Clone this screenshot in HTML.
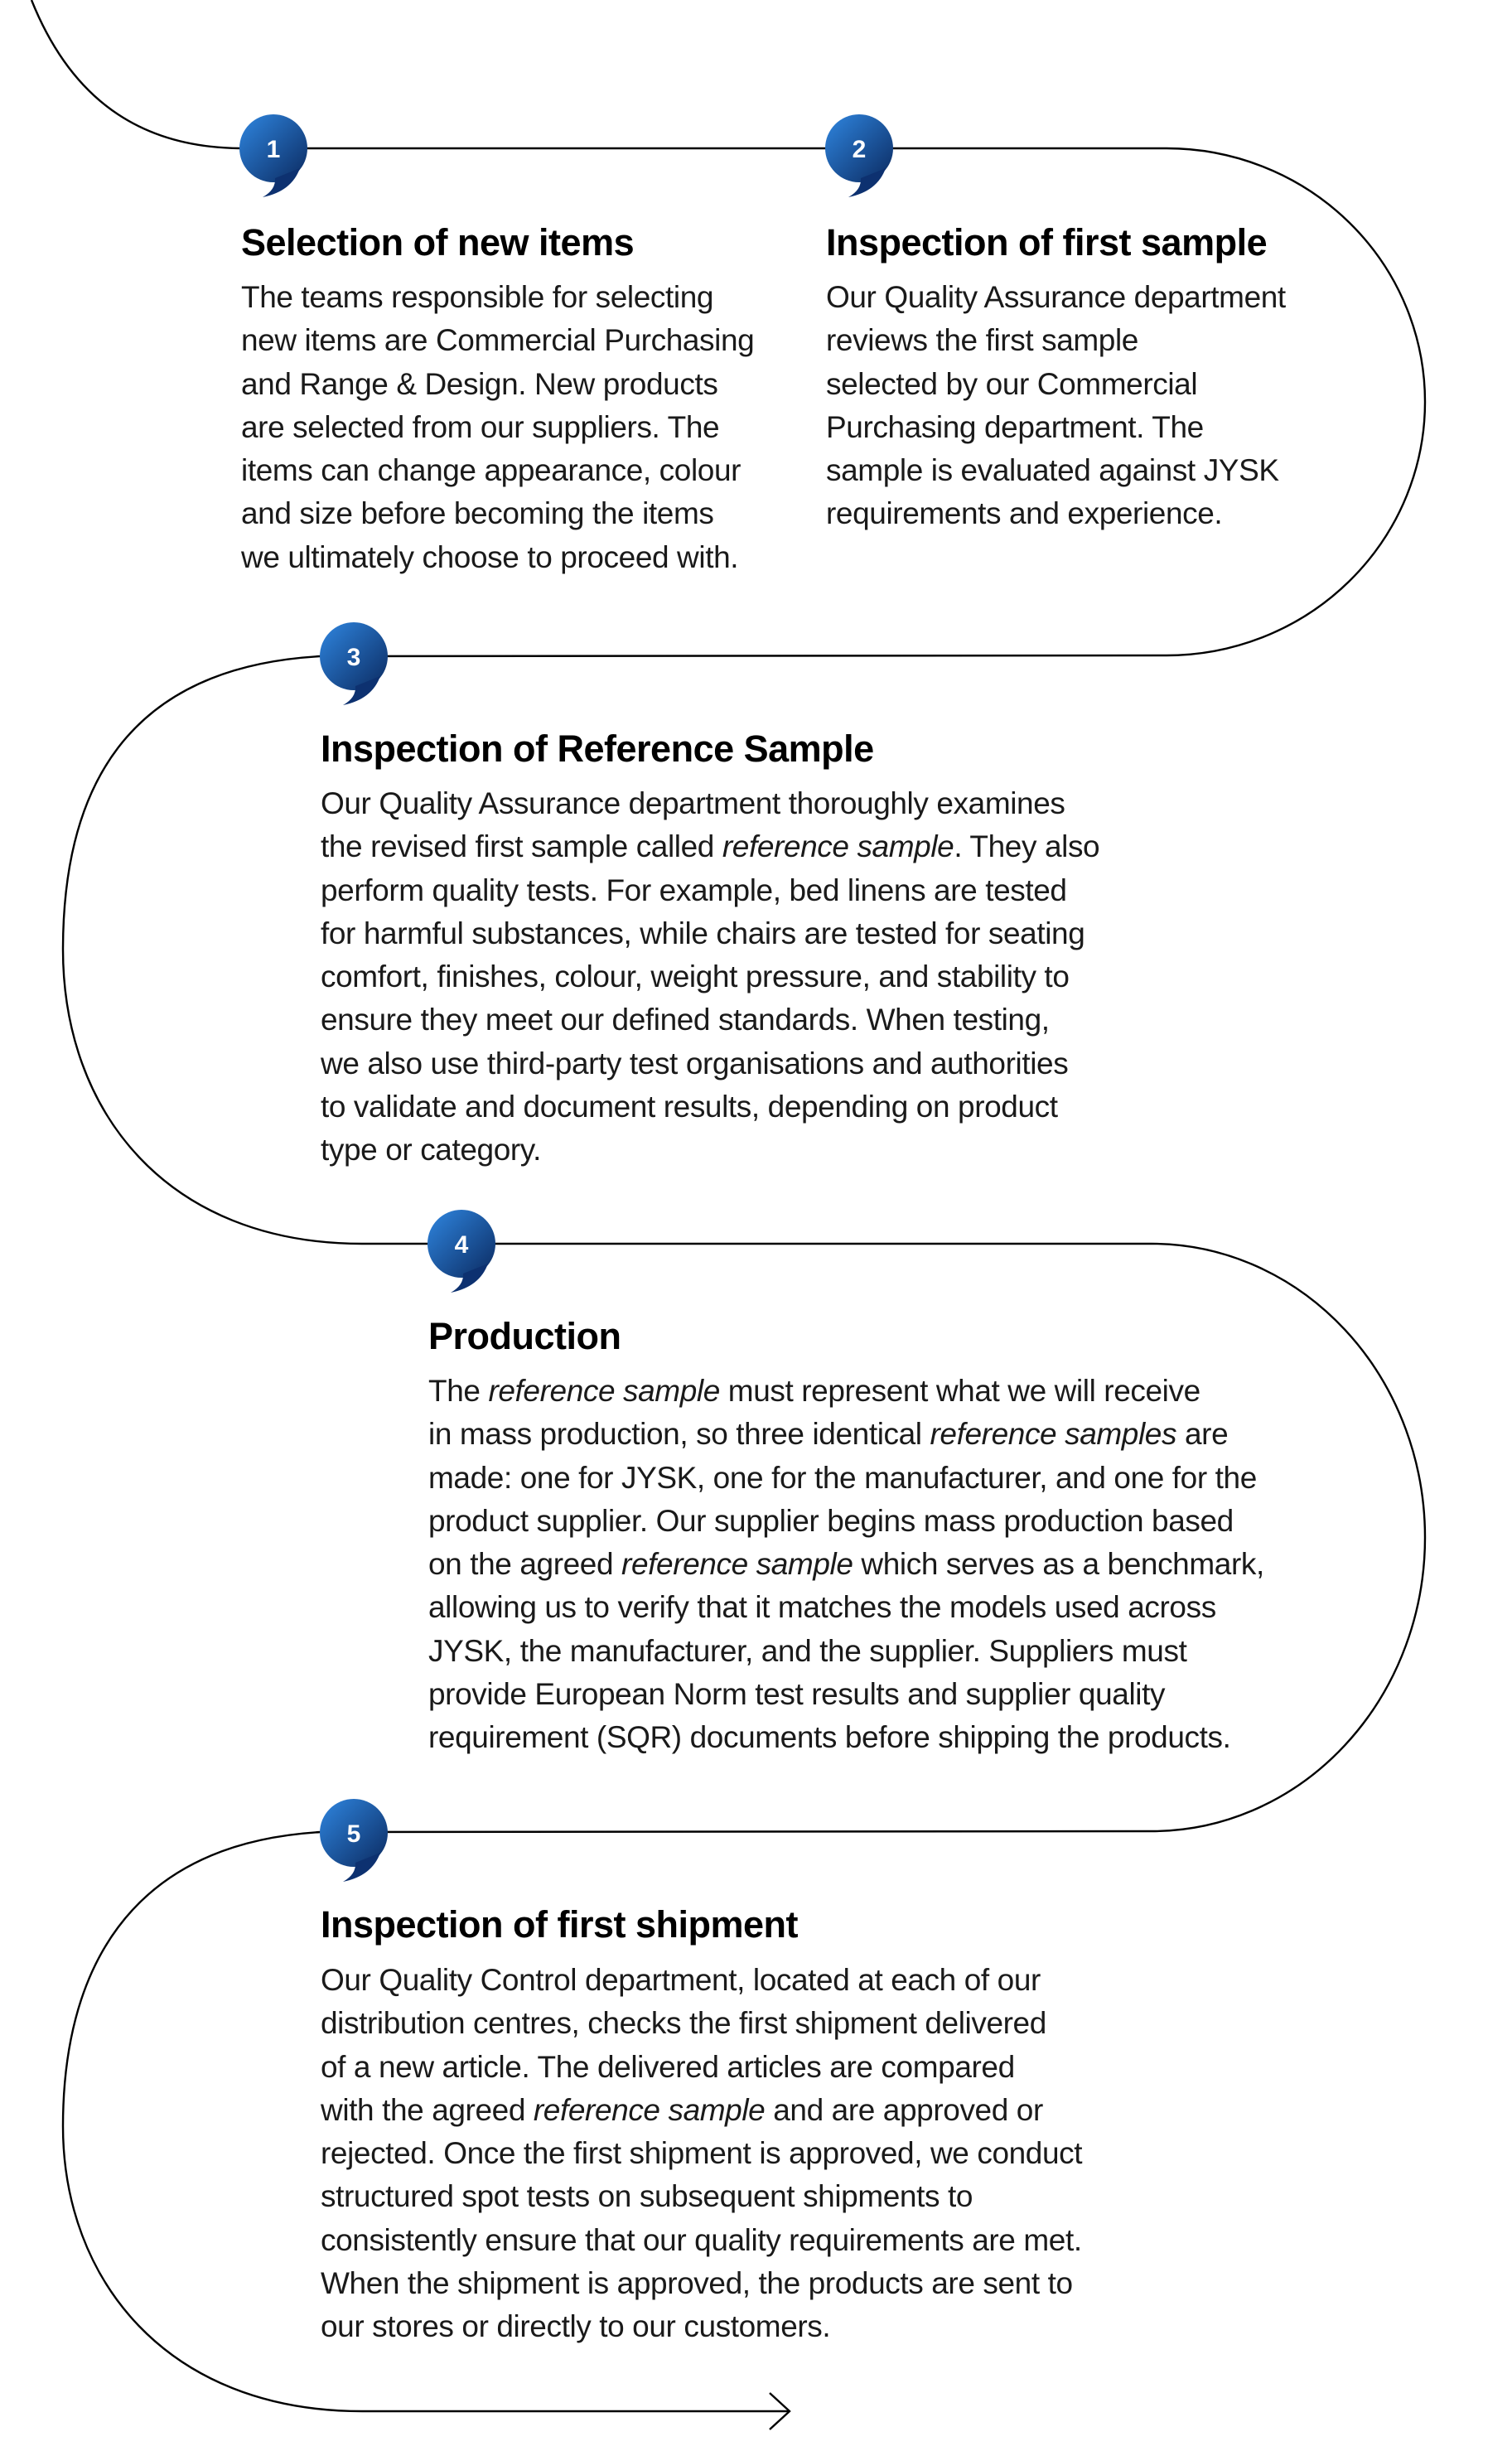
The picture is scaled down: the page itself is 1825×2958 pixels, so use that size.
<!DOCTYPE html>
<html><head><meta charset="utf-8"><style>
html,body{margin:0;padding:0;background:#fff;}
body{width:1825px;height:2958px;position:relative;overflow:hidden;font-family:"Liberation Sans",sans-serif;}
svg{position:absolute;left:0;top:0;}
.t{position:absolute;font-weight:bold;font-size:45px;line-height:50px;color:#000;white-space:nowrap;letter-spacing:-0.5px;}
.b{position:absolute;font-size:37px;line-height:52.3px;color:#1a1a1a;white-space:nowrap;letter-spacing:-0.4px;}
</style></head><body>
<svg width="1825" height="2958" viewBox="0 0 1825 2958">
<defs>
<linearGradient id="g" x1="0" y1="0" x2="1" y2="1">
<stop offset="0" stop-color="#2f86e0"/><stop offset="1" stop-color="#0b2a60"/>
</linearGradient>
<g id="bub">
<circle cx="0" cy="0" r="41" fill="url(#g)"/>
<path d="M32,24 Q22,52 -13,59 Q3,50 2,36 Z" fill="#0d3170"/>
</g>
</defs>
<g fill="none" stroke="#000" stroke-width="2.4">
<path d="M38,0 C90,130 180,178 290,179 L1408,179 A312 306 0 0 1 1408,791 L387,792"/>
<path d="M387,792 C150,805 76,955 76,1146 C76,1340 200,1501 437,1501 L1390,1501 A330 354.5 0 0 1 1390,2210 L387,2211"/>
<path d="M387,2211 C150,2225 76,2385 76,2566 C76,2750 200,2910 437,2910 L952,2910"/>
<path d="M929,2888 L953,2910 L929,2932"/>
</g>
<g font-family="Liberation Sans" font-weight="bold" font-size="30" fill="#fff" text-anchor="middle">
<use href="#bub" x="330" y="179"/><text x="330" y="190">1</text>
<use href="#bub" x="1037" y="179"/><text x="1037" y="190">2</text>
<use href="#bub" x="427" y="792"/><text x="427" y="803">3</text>
<use href="#bub" x="557" y="1501"/><text x="557" y="1512">4</text>
<use href="#bub" x="427" y="2212"/><text x="427" y="2223">5</text>
</g>
</svg>

<div class="t" style="left:291px;top:268px">Selection of new items</div>
<div class="b" style="left:291px;top:333px">The teams responsible for selecting<br>new items are Commercial Purchasing<br>and Range &amp; Design. New products<br>are selected from our suppliers. The<br>items can change appearance, colour<br>and size before becoming the items<br>we ultimately choose to proceed with.</div>

<div class="t" style="left:997px;top:268px">Inspection of first sample</div>
<div class="b" style="left:997px;top:333px">Our Quality Assurance department<br>reviews the first sample<br>selected by our Commercial<br>Purchasing department. The<br>sample is evaluated against JYSK<br>requirements and experience.</div>

<div class="t" style="left:387px;top:879px">Inspection of Reference Sample</div>
<div class="b" style="left:387px;top:944px">Our Quality Assurance department thoroughly examines<br>the revised first sample called <i>reference sample</i>. They also<br>perform quality tests. For example, bed linens are tested<br>for harmful substances, while chairs are tested for seating<br>comfort, finishes, colour, weight pressure, and stability to<br>ensure they meet our defined standards. When testing,<br>we also use third-party test organisations and authorities<br>to validate and document results, depending on product<br>type or category.</div>

<div class="t" style="left:517px;top:1588px">Production</div>
<div class="b" style="left:517px;top:1653px">The <i>reference sample</i> must represent what we will receive<br>in mass production, so three identical <i>reference samples</i> are<br>made: one for JYSK, one for the manufacturer, and one for the<br>product supplier. Our supplier begins mass production based<br>on the agreed <i>reference sample</i> which serves as a benchmark,<br>allowing us to verify that it matches the models used across<br>JYSK, the manufacturer, and the supplier. Suppliers must<br>provide European Norm test results and supplier quality<br>requirement (SQR) documents before shipping the products.</div>

<div class="t" style="left:387px;top:2298px">Inspection of first shipment</div>
<div class="b" style="left:387px;top:2364px">Our Quality Control department, located at each of our<br>distribution centres, checks the first shipment delivered<br>of a new article. The delivered articles are compared<br>with the agreed <i>reference sample</i> and are approved or<br>rejected. Once the first shipment is approved, we conduct<br>structured spot tests on subsequent shipments to<br>consistently ensure that our quality requirements are met.<br>When the shipment is approved, the products are sent to<br>our stores or directly to our customers.</div>
</body></html>
